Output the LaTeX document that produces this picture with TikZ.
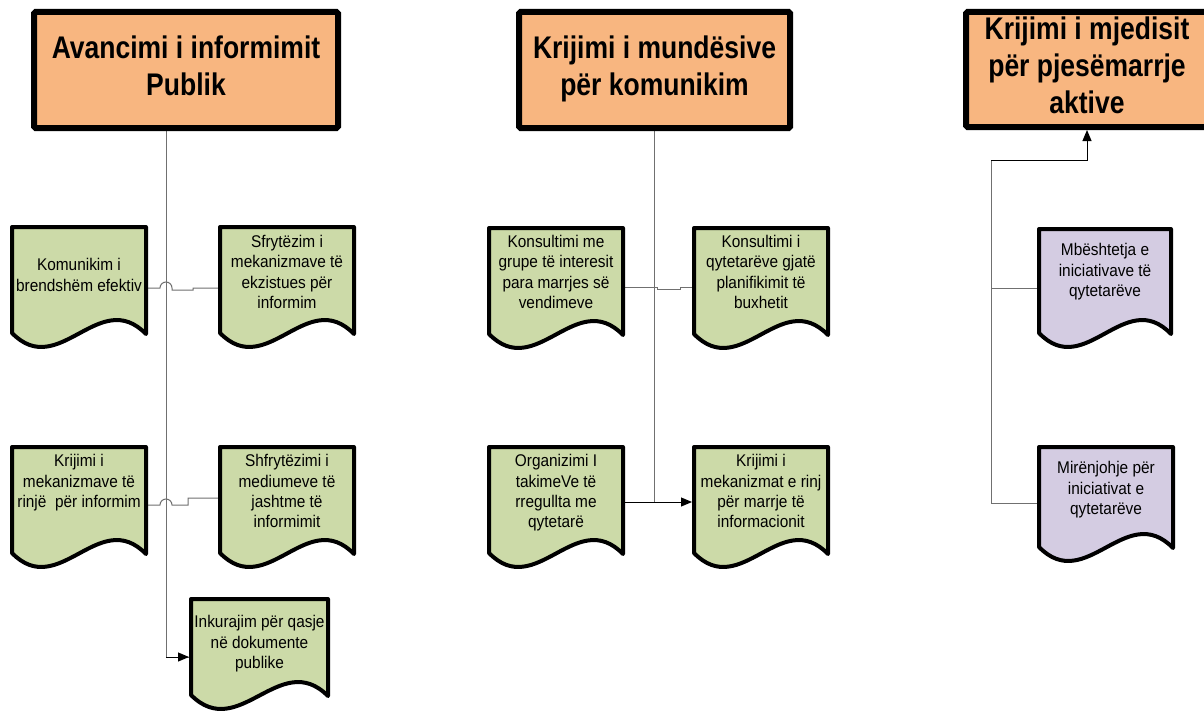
\documentclass[tikz,border=0pt]{standalone}
\usepackage{fontspec}
\usepackage{graphicx}
\setmainfont{Liberation Sans}
\usetikzlibrary{arrows.meta}
\definecolor{titlefill}{HTML}{F8B680}
\definecolor{greenfill}{HTML}{CCDAA8}
\definecolor{purplefill}{HTML}{D4CCE2}
\definecolor{linegray}{HTML}{707070}
\pgfdeclarelayer{bg}
\pgfsetlayers{bg,main}
\newcommand\tallrows[2]{\scalebox{1}[#1]{\begin{tabular}{@{}c@{}}#2\end{tabular}}}
\tikzset{
  titlebox/.style={draw=black, line width=6pt, fill=titlefill, rounded corners=1.5pt,
    font=\bfseries\fontsize{26.5}{31.4}\selectfont, align=center, inner sep=0pt},
  doctext/.style={font=\fontsize{15.4}{18.2}\selectfont, align=center, inner sep=0pt, outer sep=0pt},
  docborder/.style={draw=black, line width=4pt, line join=round},
  trunk/.style={draw=linegray, line width=1pt},
  arrowblk/.style={draw=black, line width=1pt, -{Triangle[length=11pt,width=9pt]}, shorten >=2pt},
}
% name, x, y, w, Hl, fill, text centre y, text
\newcommand\docbox[8]{%
  \path[docborder, fill=#6] (#2,#3) -- ({#2+#4},#3) -- ({#2+#4},{#3+#5+1})
    .. controls ({#2+0.65*#4},{#3+#5+1-48}) and ({#2+0.35*#4},{#3+#5+48}) .. (#2,{#3+#5}) -- cycle;
  \node[doctext, minimum width=#4] (#1) at ({#2+#4/2},#7) {\tallrows{1.1}{#8}};
}
\begin{document}
\begin{tikzpicture}[x=1pt,y=-1pt]
\useasboundingbox (0,0) rectangle (1204,717);
\begin{pgfonlayer}{bg}
\fill[white] (0,0) rectangle (1204,717);
\end{pgfonlayer}

% titles
\node[titlebox, minimum width=304, minimum height=116] (T1) at (186,70)
  {\tallrows{1.18}{Avancimi i informimit\\Publik}};
\node[titlebox, minimum width=271, minimum height=116] (T2) at (654.5,70)
  {\tallrows{1.18}{Krijimi i mund\"esive\\p\"er komunikim}};
\node[titlebox, minimum width=242, minimum height=115] (T3) at (1087,69.5)
  {\tallrows{1.18}{Krijimi i mjedisit\\p\"er pjes\"emarrje\\aktive}};

% document boxes
\docbox{A}{12}{227}{134}{106}{greenfill}{277}{Komunikim i\\brendsh\"em efektiv}
\docbox{B}{220}{227}{134}{106}{greenfill}{274}{Sfryt\"ezim i\\mekanizmave t\"e\\ekzistues p\"er\\informim}
\docbox{C}{12}{447}{134}{106}{greenfill}{483}{Krijimi i\\mekanizmave t\"e\\rinj\"e\ \ p\"er informim}
\docbox{D}{220}{447}{134}{106}{greenfill}{493}{Shfryt\"ezimi i\\mediumeve t\"e\\jashtme t\"e\\informimit}
\docbox{E}{191}{599}{137}{96}{greenfill}{644}{Inkurajim p\"er qasje\\n\"e dokumente\\publike}
\docbox{F}{489}{228}{134}{106}{greenfill}{274}{Konsultimi me\\grupe t\"e interesit\\para marrjes s\"e\\vendimeve}
\docbox{G}{694}{228}{134}{106}{greenfill}{274}{Konsultimi i\\qytetar\"eve gjat\"e\\planifikimit t\"e\\buxhetit}
\docbox{H}{489}{447}{134}{106}{greenfill}{493}{Organizimi I\\takimeVe t\"e\\rregullta me\\qytetar\"e}
\docbox{I}{694}{447}{134}{106}{greenfill}{493}{Krijimi i\\mekanizmat e rinj\\p\"er marrje t\"e\\informacionit}
\docbox{J}{1039}{229}{132}{104}{purplefill}{272}{Mb\"eshtetja e\\iniciativave t\"e\\qytetar\"eve}
\docbox{K}{1039}{447}{134}{100}{purplefill}{490}{Mir\"enjohje p\"er\\iniciativat e\\qytetar\"eve}

% connection points
\coordinate (a) at ([yshift=-11pt]A.east);
\coordinate (b) at ([yshift=-14pt]B.west);
\coordinate (c) at ([yshift=-22pt]C.east);
\coordinate (d) at ([yshift=-5pt]D.west);
\coordinate (e) at ([yshift=-13pt]E.west);
\coordinate (f) at ([yshift=-13pt]F.east);
\coordinate (g) at ([yshift=-13pt]G.west);
\coordinate (h) at ([yshift=-9pt]H.east);
\coordinate (i) at ([yshift=-9pt]I.west);
\coordinate (j) at ([yshift=-16pt]J.west);
\coordinate (k) at ([yshift=-13pt]K.west);
\coordinate (t1) at ([xshift=-20pt]T1.south);
\coordinate (m) at (991,160);

\begin{pgfonlayer}{bg}
% column 1
\draw[trunk] (t1) |- (e);
\draw[arrowblk] (t1 |- e) -- (e);
\draw[trunk] (a) -- (160,288) arc[start angle=180, end angle=0, radius=6pt]
  -- (172,290) -- (193,290) -- (193,288) -- (b);
\draw[trunk] (c) -- (160,505) arc[start angle=180, end angle=0, radius=6pt]
  -- (188,505) -- (188,498) -- (d);
% column 2
\draw[trunk] (f) -- (657,287) -- (657,289) -- (680,289) -- (680,287) -- (g);
\draw[trunk] (T2.south) -- (T2.south |- h);
\draw[arrowblk] (h) -- (i);
% column 3
\draw[trunk] (k) -| (m);
\draw[trunk] (j) -- (j -| m);
\draw[arrowblk, shorten >=0pt] (m) -| (T3.south);
\end{pgfonlayer}
\end{tikzpicture}
\end{document}
